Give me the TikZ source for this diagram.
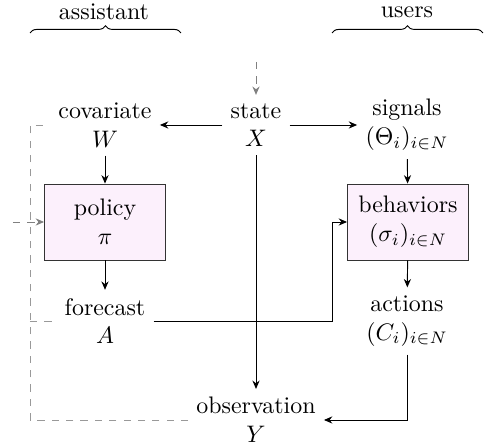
\documentclass[tikz,border=0pt]{standalone}
\usetikzlibrary{arrows.meta,decorations.pathreplacing}
\definecolor{boxfill}{HTML}{FCF0FC}
\begin{document}
\begin{tikzpicture}[x=0.4184pt,y=-0.4184pt,
  lbl/.style={align=center,inner sep=3.33pt},
  boxnode/.style={draw=black!80,fill=boxfill,align=center,minimum width=50.6pt,minimum height=31.8pt,inner sep=0pt},
  arr/.style={-{Stealth[length=3.5pt,width=3pt]},thin},
  darr/.style={-{Stealth[length=3.5pt,width=3pt]},thin,dashed,gray},
  dln/.style={thin,dashed,gray!80},
  brc/.style={decorate,decoration={brace,amplitude=3pt}}]
\useasboundingbox (0,0) rectangle (484,444);
\node (asst) at (104,12) {assistant};
\node (usrs) at (407,12) {users};
\coordinate (ab1) at (30,33);
\coordinate (ab2) at (181,33);
\coordinate (ub1) at (332,33);
\coordinate (ub2) at (483,33);
\draw[brc] (ab1) -- (ab2);
\draw[brc] (ub1) -- (ub2);
\node[lbl] (cov) at (105,125) {covariate\\$W$};
\node[lbl] (state) at (256,125) {state\\$X$};
\node[lbl] (sig) at (407,125) {signals\\$(\Theta_i)_{i\in N}$};
\node[boxnode] (pol) at (105,222) {policy\\$\pi$};
\node[boxnode] (beh) at (408,222) {behaviors\\$(\sigma_i)_{i\in N}$};
\node[lbl] (fc) at (105,321) {forecast\\$A$};
\node[lbl] (act) at (407,321) {actions\\$(C_i)_{i\in N}$};
\node[lbl] (obs) at (256,420) {observation\\$Y$};
\coordinate (top) at (256,62);
\coordinate (lin) at (13,222);
\coordinate (vx) at (30,0);
\draw[darr] (top) -- (state);
\draw[arr] (state) -- (cov);
\draw[arr] (state) -- (sig);
\draw[arr] (cov) -- (pol);
\draw[arr] (pol) -- (fc);
\draw[arr] (sig) -- (beh);
\draw[arr] (beh) -- (act);
\draw[arr] (state) -- (obs);
\draw[arr] (fc.east) -| (332,222) -- (beh.west);
\draw[arr] (act.south) |- (obs.east);
\draw[dln] (obs.west) -| (vx |- cov) -- (cov.west);
\draw[dln] (vx |- fc) -- (fc.west);
\draw[darr] (lin) -- (pol.west);
\end{tikzpicture}
\end{document}
